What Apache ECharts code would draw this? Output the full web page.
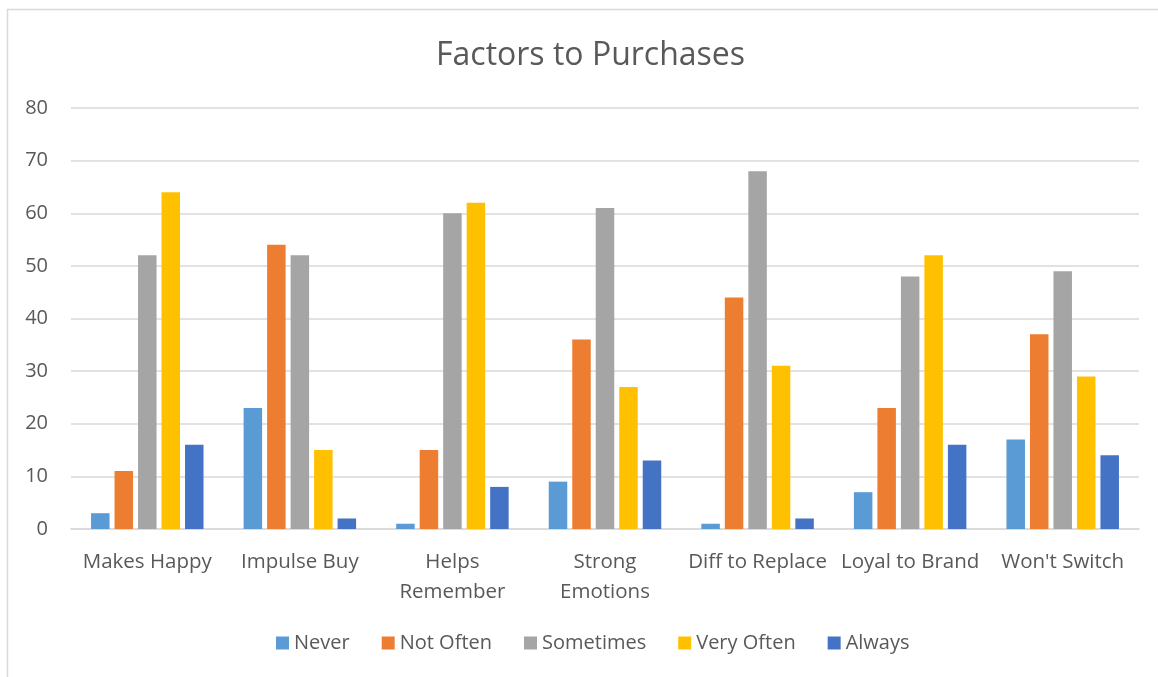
<!DOCTYPE html>
<html><head><meta charset="utf-8">
<script src="https://cdn.jsdelivr.net/npm/echarts@6/dist/echarts.min.js"></script>
<style>html,body{margin:0;padding:0;background:#fff}#c{width:1158px;height:677px}</style>
</head><body><div id="c"></div>
<script>
const categories = ["Makes Happy","Impulse Buy","Helps\nRemember","Strong\nEmotions","Diff to Replace","Loyal to Brand","Won't Switch"];
const seriesNames = ["Never","Not Often","Sometimes","Very Often","Always"];
const never = [3,23,1,9,1,7,17];
const notOften = [11,54,15,36,44,23,37];
const sometimes = [52,52,60,61,68,48,49];
const veryOften = [64,15,62,27,31,52,29];
const always = [16,2,8,13,2,16,14];
const yTicks = [0,10,20,30,40,50,60,70,80];
const colors = ["#5B9BD5","#ED7D31","#A5A5A5","#FFC000","#4472C4"];
const values = [never, notOften, sometimes, veryOften, always];
const font = "'Open Sans', 'Liberation Sans', sans-serif";
const chart = echarts.init(document.getElementById('c'));
chart.setOption({
  animation:false,
  graphic:[{type:'rect',shape:{x:7.5,y:9.5,width:1200,height:700},style:{fill:'none',stroke:'#D9D9D9',lineWidth:1.5},silent:true}],
  title:{text:'Factors to Purchases',left:431,top:35,textStyle:{fontFamily:font,fontSize:32,fontWeight:'normal',color:'#595959'}},
  legend:{bottom:19,left:271,itemWidth:13,itemHeight:13,itemGap:32,icon:'rect',
    textStyle:{fontFamily:font,fontSize:20,color:'#595959'},data:seriesNames},
  grid:{left:71,right:19,top:108,bottom:148,containLabel:false},
  xAxis:{type:'category',data:categories,axisTick:{show:false},
    axisLine:{lineStyle:{color:'#D9D9D9',width:1.5}},
    axisLabel:{fontFamily:font,fontSize:20.5,color:'#595959',lineHeight:30,margin:18,interval:0}},
  yAxis:{type:'value',min:yTicks[0],max:yTicks[yTicks.length-1],interval:10,
    axisLine:{show:false},axisTick:{show:false},
    splitLine:{lineStyle:{color:'#D9D9D9',width:1.5}},
    axisLabel:{fontFamily:font,fontSize:20,color:'#595959',margin:23}},
  series:seriesNames.map((n,i)=>({name:n,type:'bar',data:values[i],barWidth:18.5,barGap:'27%',
    itemStyle:{color:colors[i]}}))
});
</script></body></html>
